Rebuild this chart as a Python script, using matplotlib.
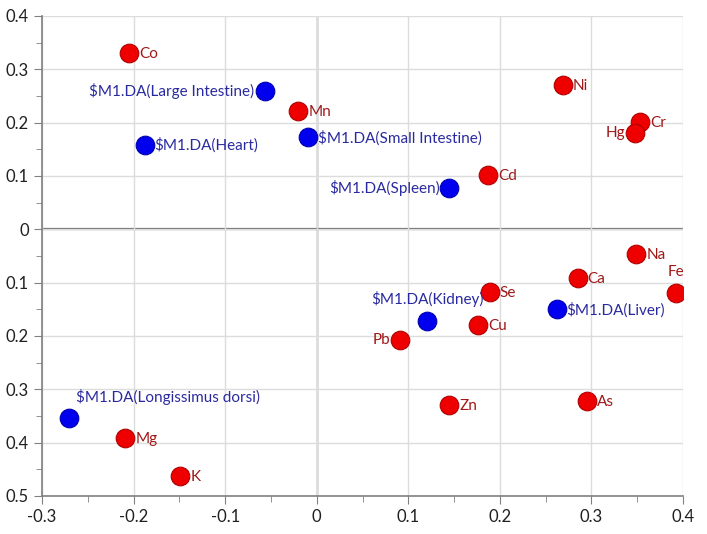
import matplotlib
matplotlib.use("Agg")
import matplotlib.pyplot as plt
from matplotlib.ticker import MultipleLocator, FixedLocator, FixedFormatter

plt.rcParams['font.family'] = ['Lato', 'DejaVu Sans']

# Elements (red)
elem_names = ["Co", "Mn", "Ni", "Cr", "Hg", "Cd", "Na", "Ca", "Fe", "Se", "Cu", "Pb", "Zn", "As", "Mg", "K"]
elem_x = [-0.205, -0.020, 0.269, 0.353, 0.348, 0.187, 0.349, 0.285, 0.392, 0.189, 0.176, 0.091, 0.145, 0.295, -0.209, -0.149]
elem_y = [0.330, 0.221, 0.270, 0.201, 0.180, 0.101, -0.047, -0.092, -0.120, -0.118, -0.180, -0.208, -0.330, -0.321, -0.392, -0.462]

# Tissues (blue)
tis_names = ["$M1.DA(Large Intestine)", "$M1.DA(Heart)", "$M1.DA(Small Intestine)", "$M1.DA(Spleen)",
             "$M1.DA(Liver)", "$M1.DA(Kidney)", "$M1.DA(Longissimus dorsi)"]
tis_x = [-0.057, -0.188, -0.010, 0.145, 0.262, 0.120, -0.270]
tis_y = [0.259, 0.159, 0.173, 0.077, -0.150, -0.171, -0.353]

x_ticks = [-0.3, -0.2, -0.1, 0, 0.1, 0.2, 0.3, 0.4]
x_labels = ["-0.3", "-0.2", "-0.1", "0", "0.1", "0.2", "0.3", "0.4"]
y_ticks = [0.4, 0.3, 0.2, 0.1, 0, -0.1, -0.2, -0.3, -0.4, -0.5]
y_labels = ["0.4", "0.3", "0.2", "0.1", "0", "0.1", "0.2", "0.3", "0.4", "0.5"]

# label placement (offset pixels, ha, va)
elem_pos = {"Hg": (-10, 0, "right", "center"), "Pb": (-10, 0, "right", "center"),
            "Fe": (0, 14, "center", "bottom")}
tis_pos = {"$M1.DA(Large Intestine)": (-10, 0, "right", "center"),
           "$M1.DA(Spleen)": (-10, 0, "right", "center"),
           "$M1.DA(Kidney)": (1, 14, "center", "bottom"),
           "$M1.DA(Longissimus dorsi)": (7, 13, "left", "bottom")}

fig = plt.figure(figsize=(7.07, 5.34), dpi=100)
ax = fig.add_axes([42/707, 38/534, (683-42)/707, (496-16)/534])

ax.set_xlim(-0.3, 0.4)
ax.set_ylim(-0.5, 0.4)

ax.xaxis.set_major_locator(FixedLocator(x_ticks))
ax.xaxis.set_major_formatter(FixedFormatter(x_labels))
ax.yaxis.set_major_locator(FixedLocator(y_ticks))
ax.yaxis.set_major_formatter(FixedFormatter(y_labels))
ax.xaxis.set_minor_locator(MultipleLocator(0.05))
ax.yaxis.set_minor_locator(MultipleLocator(0.05))

ax.grid(True, which='major', color='#dcdcdc', linewidth=1.0, zorder=0)
ax.axhline(0, color='#6a6a6a', linewidth=1.6, zorder=1)
ax.axvline(0, color='#6a6a6a', linewidth=1.0, zorder=1)

for s in ['top', 'right']:
    ax.spines[s].set_visible(False)
for s in ['left', 'bottom']:
    ax.spines[s].set_color('#808080')
    ax.spines[s].set_linewidth(1.2)

ax.tick_params(which='major', direction='out', length=6, color='#808080', labelsize=12, labelcolor='#202020')
ax.tick_params(which='minor', direction='out', length=4, color='#808080')

ax.scatter(elem_x, elem_y, s=180, color='#ee0000', edgecolor='#b00000', linewidth=0.8, zorder=3)
ax.scatter(tis_x, tis_y, s=180, color='#0000ee', edgecolor='#0000b0', linewidth=0.8, zorder=3)

for n, x, y in zip(elem_names, elem_x, elem_y):
    dx, dy, ha, va = elem_pos.get(n, (10, -1, "left", "center"))
    ax.annotate(n, (x, y), xytext=(dx, dy), textcoords='offset pixels', ha=ha, va=va,
                color='#a01818', fontsize=11, zorder=4)

for n, x, y in zip(tis_names, tis_x, tis_y):
    dx, dy, ha, va = tis_pos.get(n, (10, -1, "left", "center"))
    ax.annotate(n, (x, y), xytext=(dx, dy), textcoords='offset pixels', ha=ha, va=va,
                color='#2a2aa0', fontsize=11, zorder=4)

fig.savefig("out.png", dpi=100, facecolor='white')
